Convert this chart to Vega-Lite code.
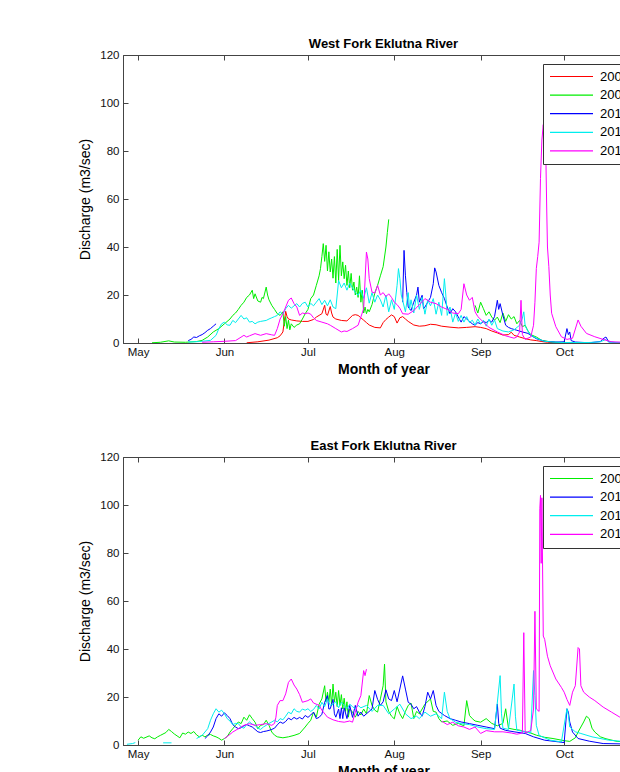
{
  "$schema": "https://vega.github.io/schema/vega-lite/v6.json",
  "background": "white",
  "padding": {"left": 78, "top": 37, "right": 0, "bottom": 0},
  "autosize": {"type": "pad"},
  "spacing": 62,
  "config": {
    "font": "Liberation Sans",
    "view": {"stroke": "#444", "strokeWidth": 1},
    "axis": {"grid": false, "domainColor": "#444", "tickColor": "#444", "labelColor": "#111", "titleColor": "#000", "labelFont": "Liberation Sans", "titleFont": "Liberation Sans", "labelFontSize": 11.5, "tickSize": -5, "labelFlush": false, "labelOverlap": false},
    "title": {"font": "Liberation Sans", "fontSize": 13, "fontWeight": "bold", "color": "#000", "anchor": "middle", "offset": -2},
    "legend": {"title": null, "orient": "top-right", "offset": 9, "symbolType": "stroke", "symbolSize": 1849, "symbolStrokeWidth": 1.2, "clipHeight": 13, "rowPadding": 4.6, "padding": 6, "labelFont": "Liberation Sans", "labelFontSize": 13, "labelColor": "#000", "labelOffset": 6, "strokeColor": "#333", "fillColor": "white", "cornerRadius": 0}
  },
  "resolve": {"scale": {"color": "independent"}, "legend": {"color": "independent"}},
  "datasets": {
    "west": [
      {"y":"2008","s":1,"t":"2012-06-09T00:00","q":0.1},{"y":"2008","s":1,"t":"2012-06-13T00:00","q":0.5},{"y":"2008","s":1,"t":"2012-06-17T00:00","q":1.2},{"y":"2008","s":1,"t":"2012-06-20T00:00","q":2.2},{"y":"2008","s":1,"t":"2012-06-21T00:00","q":3},{"y":"2008","s":1,"t":"2012-06-22T00:00","q":4.6},{"y":"2008","s":1,"t":"2012-06-22T12:00","q":9},{"y":"2008","s":1,"t":"2012-06-23T00:00","q":13.2},{"y":"2008","s":1,"t":"2012-06-23T12:00","q":11},{"y":"2008","s":1,"t":"2012-06-24T00:00","q":10},{"y":"2008","s":1,"t":"2012-06-25T00:00","q":9.6},{"y":"2008","s":1,"t":"2012-06-27T00:00","q":9.2},{"y":"2008","s":1,"t":"2012-06-29T00:00","q":9},{"y":"2008","s":1,"t":"2012-07-01T00:00","q":9},{"y":"2008","s":1,"t":"2012-07-03T00:00","q":9.8},{"y":"2008","s":1,"t":"2012-07-04T00:00","q":10.8},{"y":"2008","s":1,"t":"2012-07-05T00:00","q":11.5},{"y":"2008","s":1,"t":"2012-07-06T00:00","q":12.2},{"y":"2008","s":1,"t":"2012-07-07T00:00","q":15.7},{"y":"2008","s":1,"t":"2012-07-07T12:00","q":12},{"y":"2008","s":1,"t":"2012-07-08T00:00","q":11.5},{"y":"2008","s":1,"t":"2012-07-09T00:00","q":15.2},{"y":"2008","s":1,"t":"2012-07-09T12:00","q":12.5},{"y":"2008","s":1,"t":"2012-07-10T00:00","q":10.8},{"y":"2008","s":1,"t":"2012-07-11T00:00","q":10},{"y":"2008","s":1,"t":"2012-07-13T00:00","q":9.4},{"y":"2008","s":1,"t":"2012-07-15T00:00","q":9.2},{"y":"2008","s":1,"t":"2012-07-17T00:00","q":11.5},{"y":"2008","s":1,"t":"2012-07-18T00:00","q":11.8},{"y":"2008","s":1,"t":"2012-07-19T00:00","q":11.5},{"y":"2008","s":1,"t":"2012-07-20T00:00","q":10.5},{"y":"2008","s":1,"t":"2012-07-21T00:00","q":9.5},{"y":"2008","s":1,"t":"2012-07-22T00:00","q":8.5},{"y":"2008","s":1,"t":"2012-07-23T00:00","q":7.5},{"y":"2008","s":1,"t":"2012-07-25T00:00","q":6.5},{"y":"2008","s":1,"t":"2012-07-27T00:00","q":6.3},{"y":"2008","s":1,"t":"2012-07-28T00:00","q":8.5},{"y":"2008","s":1,"t":"2012-07-29T00:00","q":9.8},{"y":"2008","s":1,"t":"2012-07-30T00:00","q":10.8},{"y":"2008","s":1,"t":"2012-07-31T00:00","q":11.7},{"y":"2008","s":1,"t":"2012-08-01T00:00","q":11},{"y":"2008","s":1,"t":"2012-08-02T00:00","q":8.3},{"y":"2008","s":1,"t":"2012-08-03T00:00","q":10.5},{"y":"2008","s":1,"t":"2012-08-04T00:00","q":11},{"y":"2008","s":1,"t":"2012-08-05T00:00","q":10},{"y":"2008","s":1,"t":"2012-08-06T00:00","q":9},{"y":"2008","s":1,"t":"2012-08-08T00:00","q":7.5},{"y":"2008","s":1,"t":"2012-08-10T00:00","q":7},{"y":"2008","s":1,"t":"2012-08-12T00:00","q":7.2},{"y":"2008","s":1,"t":"2012-08-14T00:00","q":7.8},{"y":"2008","s":1,"t":"2012-08-16T00:00","q":7.6},{"y":"2008","s":1,"t":"2012-08-18T00:00","q":7},{"y":"2008","s":1,"t":"2012-08-21T00:00","q":6.6},{"y":"2008","s":1,"t":"2012-08-24T00:00","q":6.3},{"y":"2008","s":1,"t":"2012-08-27T00:00","q":6.5},{"y":"2008","s":1,"t":"2012-08-30T00:00","q":6.8},{"y":"2008","s":1,"t":"2012-09-01T00:00","q":6.5},{"y":"2008","s":1,"t":"2012-09-03T00:00","q":6},{"y":"2008","s":1,"t":"2012-09-05T00:00","q":5},{"y":"2008","s":1,"t":"2012-09-07T00:00","q":4.2},{"y":"2008","s":1,"t":"2012-09-09T00:00","q":3.3},{"y":"2008","s":1,"t":"2012-09-11T00:00","q":3.5},{"y":"2008","s":1,"t":"2012-09-12T00:00","q":4.5},{"y":"2008","s":1,"t":"2012-09-13T00:00","q":3.2},{"y":"2008","s":1,"t":"2012-09-15T00:00","q":2.5},{"y":"2008","s":1,"t":"2012-09-17T00:00","q":1.8},{"y":"2008","s":1,"t":"2012-09-19T00:00","q":1.3},{"y":"2008","s":1,"t":"2012-09-21T00:00","q":1},{"y":"2008","s":1,"t":"2012-09-23T00:00","q":0.6},{"y":"2008","s":1,"t":"2012-09-25T00:00","q":0.3},{"y":"2008","s":1,"t":"2012-09-28T00:00","q":0.1},

      {"y":"2009","s":1,"t":"2012-05-06T00:00","q":0.1},{"y":"2009","s":1,"t":"2012-05-09T00:00","q":0.3},{"y":"2009","s":1,"t":"2012-05-12T00:00","q":0.9},{"y":"2009","s":1,"t":"2012-05-14T00:00","q":0.4},{"y":"2009","s":1,"t":"2012-05-18T00:00","q":0.3},{"y":"2009","s":1,"t":"2012-05-22T00:00","q":0.6},{"y":"2009","s":1,"t":"2012-05-24T00:00","q":1.1},{"y":"2009","s":1,"t":"2012-05-26T00:00","q":2.5},{"y":"2009","s":1,"t":"2012-05-28T00:00","q":4.6},{"y":"2009","s":1,"t":"2012-05-30T00:00","q":6},{"y":"2009","s":1,"t":"2012-06-01T00:00","q":8},{"y":"2009","s":1,"t":"2012-06-03T00:00","q":10},{"y":"2009","s":1,"t":"2012-06-04T00:00","q":11.5},{"y":"2009","s":1,"t":"2012-06-05T00:00","q":12.5},{"y":"2009","s":1,"t":"2012-06-06T00:00","q":14},{"y":"2009","s":1,"t":"2012-06-07T00:00","q":15.7},{"y":"2009","s":1,"t":"2012-06-08T00:00","q":17},{"y":"2009","s":1,"t":"2012-06-09T00:00","q":19},{"y":"2009","s":1,"t":"2012-06-10T00:00","q":20},{"y":"2009","s":1,"t":"2012-06-11T00:00","q":22},{"y":"2009","s":1,"t":"2012-06-11T12:00","q":18.5},{"y":"2009","s":1,"t":"2012-06-12T00:00","q":20.5},{"y":"2009","s":1,"t":"2012-06-13T00:00","q":17.5},{"y":"2009","s":1,"t":"2012-06-14T00:00","q":17},{"y":"2009","s":1,"t":"2012-06-14T12:00","q":19},{"y":"2009","s":1,"t":"2012-06-15T00:00","q":18.5},{"y":"2009","s":1,"t":"2012-06-16T00:00","q":23.3},{"y":"2009","s":1,"t":"2012-06-16T12:00","q":20},{"y":"2009","s":1,"t":"2012-06-17T00:00","q":18},{"y":"2009","s":1,"t":"2012-06-18T00:00","q":15.7},{"y":"2009","s":1,"t":"2012-06-19T00:00","q":14},{"y":"2009","s":1,"t":"2012-06-20T00:00","q":12.2},{"y":"2009","s":1,"t":"2012-06-21T00:00","q":11.5},{"y":"2009","s":1,"t":"2012-06-22T00:00","q":13},{"y":"2009","s":1,"t":"2012-06-22T12:00","q":7},{"y":"2009","s":1,"t":"2012-06-23T00:00","q":11},{"y":"2009","s":1,"t":"2012-06-23T12:00","q":6},{"y":"2009","s":1,"t":"2012-06-24T00:00","q":9.5},{"y":"2009","s":1,"t":"2012-06-24T12:00","q":5.5},{"y":"2009","s":1,"t":"2012-06-25T00:00","q":8},{"y":"2009","s":1,"t":"2012-06-26T00:00","q":6.5},{"y":"2009","s":1,"t":"2012-06-27T00:00","q":7.5},{"y":"2009","s":1,"t":"2012-06-28T00:00","q":8},{"y":"2009","s":1,"t":"2012-06-29T00:00","q":10},{"y":"2009","s":1,"t":"2012-06-30T00:00","q":12.2},{"y":"2009","s":1,"t":"2012-07-01T00:00","q":14},{"y":"2009","s":1,"t":"2012-07-02T00:00","q":18.5},{"y":"2009","s":1,"t":"2012-07-03T00:00","q":20},{"y":"2009","s":1,"t":"2012-07-04T00:00","q":24},{"y":"2009","s":1,"t":"2012-07-05T00:00","q":28},{"y":"2009","s":1,"t":"2012-07-05T12:00","q":31},{"y":"2009","s":1,"t":"2012-07-06T00:00","q":36},{"y":"2009","s":1,"t":"2012-07-06T12:00","q":41.4},{"y":"2009","s":1,"t":"2012-07-07T00:00","q":34},{"y":"2009","s":1,"t":"2012-07-07T12:00","q":40.7},{"y":"2009","s":1,"t":"2012-07-08T00:00","q":30},{"y":"2009","s":1,"t":"2012-07-08T12:00","q":38},{"y":"2009","s":1,"t":"2012-07-09T00:00","q":29.6},{"y":"2009","s":1,"t":"2012-07-09T12:00","q":35},{"y":"2009","s":1,"t":"2012-07-10T00:00","q":27},{"y":"2009","s":1,"t":"2012-07-10T12:00","q":36},{"y":"2009","s":1,"t":"2012-07-11T00:00","q":25},{"y":"2009","s":1,"t":"2012-07-11T12:00","q":39},{"y":"2009","s":1,"t":"2012-07-12T00:00","q":26},{"y":"2009","s":1,"t":"2012-07-12T12:00","q":40.7},{"y":"2009","s":1,"t":"2012-07-13T00:00","q":28},{"y":"2009","s":1,"t":"2012-07-13T12:00","q":33.8},{"y":"2009","s":1,"t":"2012-07-14T00:00","q":26.8},{"y":"2009","s":1,"t":"2012-07-14T12:00","q":32.4},{"y":"2009","s":1,"t":"2012-07-15T00:00","q":24},{"y":"2009","s":1,"t":"2012-07-15T12:00","q":30},{"y":"2009","s":1,"t":"2012-07-16T00:00","q":23},{"y":"2009","s":1,"t":"2012-07-16T12:00","q":29},{"y":"2009","s":1,"t":"2012-07-17T00:00","q":22},{"y":"2009","s":1,"t":"2012-07-17T12:00","q":25.4},{"y":"2009","s":1,"t":"2012-07-18T00:00","q":20},{"y":"2009","s":1,"t":"2012-07-18T12:00","q":23.3},{"y":"2009","s":1,"t":"2012-07-19T00:00","q":19},{"y":"2009","s":1,"t":"2012-07-19T12:00","q":28},{"y":"2009","s":1,"t":"2012-07-20T00:00","q":17},{"y":"2009","s":1,"t":"2012-07-20T12:00","q":22},{"y":"2009","s":1,"t":"2012-07-21T00:00","q":12.5},{"y":"2009","s":1,"t":"2012-07-21T12:00","q":15},{"y":"2009","s":1,"t":"2012-07-22T00:00","q":12.2},{"y":"2009","s":1,"t":"2012-07-22T12:00","q":14},{"y":"2009","s":1,"t":"2012-07-23T00:00","q":13},{"y":"2009","s":1,"t":"2012-07-24T00:00","q":16},{"y":"2009","s":1,"t":"2012-07-25T00:00","q":20.8},{"y":"2009","s":1,"t":"2012-07-26T00:00","q":24},{"y":"2009","s":1,"t":"2012-07-27T00:00","q":28},{"y":"2009","s":1,"t":"2012-07-28T00:00","q":31.8},{"y":"2009","s":1,"t":"2012-07-29T00:00","q":40},{"y":"2009","s":1,"t":"2012-07-29T12:00","q":46},{"y":"2009","s":1,"t":"2012-07-30T00:00","q":51.5},
      {"y":"2009","s":2,"t":"2012-08-30T00:00","q":15.7},{"y":"2009","s":2,"t":"2012-08-31T00:00","q":12.5},{"y":"2009","s":2,"t":"2012-09-01T00:00","q":17},{"y":"2009","s":2,"t":"2012-09-02T00:00","q":14.3},{"y":"2009","s":2,"t":"2012-09-03T00:00","q":11.5},{"y":"2009","s":2,"t":"2012-09-04T00:00","q":13},{"y":"2009","s":2,"t":"2012-09-05T00:00","q":10.8},{"y":"2009","s":2,"t":"2012-09-06T00:00","q":9.5},{"y":"2009","s":2,"t":"2012-09-07T00:00","q":10.8},{"y":"2009","s":2,"t":"2012-09-08T00:00","q":8.5},{"y":"2009","s":2,"t":"2012-09-09T00:00","q":12.5},{"y":"2009","s":2,"t":"2012-09-10T00:00","q":9},{"y":"2009","s":2,"t":"2012-09-11T00:00","q":11.8},{"y":"2009","s":2,"t":"2012-09-12T00:00","q":10},{"y":"2009","s":2,"t":"2012-09-13T00:00","q":11},{"y":"2009","s":2,"t":"2012-09-14T00:00","q":8},{"y":"2009","s":2,"t":"2012-09-15T00:00","q":9.4},{"y":"2009","s":2,"t":"2012-09-16T00:00","q":6.8},{"y":"2009","s":2,"t":"2012-09-17T00:00","q":7.4},{"y":"2009","s":2,"t":"2012-09-18T00:00","q":5},{"y":"2009","s":2,"t":"2012-09-19T00:00","q":3.5},{"y":"2009","s":2,"t":"2012-09-21T00:00","q":2.5},{"y":"2009","s":2,"t":"2012-09-23T00:00","q":1.1},{"y":"2009","s":2,"t":"2012-09-26T00:00","q":0.5},{"y":"2009","s":2,"t":"2012-09-30T00:00","q":0.1},{"y":"2009","s":2,"t":"2012-10-05T00:00","q":0},

      {"y":"2010","s":1,"t":"2012-05-19T00:00","q":1},{"y":"2010","s":1,"t":"2012-05-20T00:00","q":1.5},{"y":"2010","s":1,"t":"2012-05-21T00:00","q":2.5},{"y":"2010","s":1,"t":"2012-05-22T00:00","q":2.3},{"y":"2010","s":1,"t":"2012-05-23T00:00","q":3},{"y":"2010","s":1,"t":"2012-05-24T00:00","q":3.5},{"y":"2010","s":1,"t":"2012-05-25T00:00","q":4.3},{"y":"2010","s":1,"t":"2012-05-26T00:00","q":5.3},{"y":"2010","s":1,"t":"2012-05-27T00:00","q":6},{"y":"2010","s":1,"t":"2012-05-28T00:00","q":7},{"y":"2010","s":1,"t":"2012-05-29T00:00","q":8},
      {"y":"2010","s":2,"t":"2012-08-04T00:00","q":17},{"y":"2010","s":2,"t":"2012-08-04T12:00","q":38.6},{"y":"2010","s":2,"t":"2012-08-05T00:00","q":28},{"y":"2010","s":2,"t":"2012-08-05T12:00","q":21},{"y":"2010","s":2,"t":"2012-08-06T00:00","q":15},{"y":"2010","s":2,"t":"2012-08-07T00:00","q":13.5},{"y":"2010","s":2,"t":"2012-08-08T00:00","q":17},{"y":"2010","s":2,"t":"2012-08-09T00:00","q":20},{"y":"2010","s":2,"t":"2012-08-09T12:00","q":23.3},{"y":"2010","s":2,"t":"2012-08-10T00:00","q":17},{"y":"2010","s":2,"t":"2012-08-11T00:00","q":19.9},{"y":"2010","s":2,"t":"2012-08-11T12:00","q":14.3},{"y":"2010","s":2,"t":"2012-08-12T00:00","q":15},{"y":"2010","s":2,"t":"2012-08-13T00:00","q":17},{"y":"2010","s":2,"t":"2012-08-14T00:00","q":19},{"y":"2010","s":2,"t":"2012-08-15T00:00","q":24.7},{"y":"2010","s":2,"t":"2012-08-15T12:00","q":31.3},{"y":"2010","s":2,"t":"2012-08-16T00:00","q":29.6},{"y":"2010","s":2,"t":"2012-08-17T00:00","q":24},{"y":"2010","s":2,"t":"2012-08-18T00:00","q":21},{"y":"2010","s":2,"t":"2012-08-19T00:00","q":18.5},{"y":"2010","s":2,"t":"2012-08-20T00:00","q":15},{"y":"2010","s":2,"t":"2012-08-21T00:00","q":12.2},{"y":"2010","s":2,"t":"2012-08-22T00:00","q":14.3},{"y":"2010","s":2,"t":"2012-08-23T00:00","q":13},{"y":"2010","s":2,"t":"2012-08-24T00:00","q":10.8},{"y":"2010","s":2,"t":"2012-08-25T00:00","q":8.7},{"y":"2010","s":2,"t":"2012-08-26T00:00","q":11},{"y":"2010","s":2,"t":"2012-08-27T00:00","q":10},{"y":"2010","s":2,"t":"2012-08-28T00:00","q":9},{"y":"2010","s":2,"t":"2012-08-29T00:00","q":8},{"y":"2010","s":2,"t":"2012-08-30T00:00","q":7.4},{"y":"2010","s":2,"t":"2012-08-31T00:00","q":8.5},{"y":"2010","s":2,"t":"2012-09-01T00:00","q":8},{"y":"2010","s":2,"t":"2012-09-02T00:00","q":9},{"y":"2010","s":2,"t":"2012-09-03T00:00","q":8.5},{"y":"2010","s":2,"t":"2012-09-04T00:00","q":9.5},{"y":"2010","s":2,"t":"2012-09-05T00:00","q":8.7},{"y":"2010","s":2,"t":"2012-09-06T00:00","q":11},{"y":"2010","s":2,"t":"2012-09-07T00:00","q":17.8},{"y":"2010","s":2,"t":"2012-09-07T12:00","q":14},{"y":"2010","s":2,"t":"2012-09-08T00:00","q":16.4},{"y":"2010","s":2,"t":"2012-09-09T00:00","q":11.5},{"y":"2010","s":2,"t":"2012-09-10T00:00","q":7.4},{"y":"2010","s":2,"t":"2012-09-11T00:00","q":6.5},{"y":"2010","s":2,"t":"2012-09-12T00:00","q":6},{"y":"2010","s":2,"t":"2012-09-14T00:00","q":5.3},{"y":"2010","s":2,"t":"2012-09-16T00:00","q":4.6},{"y":"2010","s":2,"t":"2012-09-18T00:00","q":4},{"y":"2010","s":2,"t":"2012-09-19T00:00","q":3.2},{"y":"2010","s":2,"t":"2012-09-21T00:00","q":1.8},{"y":"2010","s":2,"t":"2012-09-24T00:00","q":0.7},{"y":"2010","s":2,"t":"2012-09-28T00:00","q":0.4},{"y":"2010","s":2,"t":"2012-10-01T00:00","q":0.5},{"y":"2010","s":2,"t":"2012-10-02T00:00","q":6},{"y":"2010","s":2,"t":"2012-10-02T12:00","q":3.5},{"y":"2010","s":2,"t":"2012-10-03T00:00","q":4.6},{"y":"2010","s":2,"t":"2012-10-03T12:00","q":1},{"y":"2010","s":2,"t":"2012-10-05T00:00","q":0.4},{"y":"2010","s":2,"t":"2012-10-10T00:00","q":0.1},{"y":"2010","s":2,"t":"2012-10-14T00:00","q":0.6},{"y":"2010","s":2,"t":"2012-10-15T00:00","q":1.8},{"y":"2010","s":2,"t":"2012-10-16T00:00","q":2.5},{"y":"2010","s":2,"t":"2012-10-17T00:00","q":0.5},{"y":"2010","s":2,"t":"2012-10-20T00:00","q":0.1},{"y":"2010","s":2,"t":"2012-10-29T00:00","q":0.05},

      {"y":"2011","s":1,"t":"2012-05-19T00:00","q":0.4},{"y":"2011","s":1,"t":"2012-05-23T00:00","q":0.6},{"y":"2011","s":1,"t":"2012-05-27T00:00","q":1.1},{"y":"2011","s":1,"t":"2012-05-29T00:00","q":3.2},{"y":"2011","s":1,"t":"2012-05-30T00:00","q":6},{"y":"2011","s":1,"t":"2012-05-31T00:00","q":8},{"y":"2011","s":1,"t":"2012-06-01T00:00","q":8.7},{"y":"2011","s":1,"t":"2012-06-02T00:00","q":7.5},{"y":"2011","s":1,"t":"2012-06-03T00:00","q":7.4},{"y":"2011","s":1,"t":"2012-06-04T00:00","q":9.4},{"y":"2011","s":1,"t":"2012-06-05T00:00","q":8.5},{"y":"2011","s":1,"t":"2012-06-06T00:00","q":10},{"y":"2011","s":1,"t":"2012-06-07T00:00","q":11.5},{"y":"2011","s":1,"t":"2012-06-08T00:00","q":10},{"y":"2011","s":1,"t":"2012-06-09T00:00","q":10.5},{"y":"2011","s":1,"t":"2012-06-10T00:00","q":8.7},{"y":"2011","s":1,"t":"2012-06-11T00:00","q":9},{"y":"2011","s":1,"t":"2012-06-12T00:00","q":8},{"y":"2011","s":1,"t":"2012-06-13T00:00","q":8.7},{"y":"2011","s":1,"t":"2012-06-14T00:00","q":9},{"y":"2011","s":1,"t":"2012-06-16T00:00","q":9.4},{"y":"2011","s":1,"t":"2012-06-17T00:00","q":10},{"y":"2011","s":1,"t":"2012-06-18T00:00","q":10.5},{"y":"2011","s":1,"t":"2012-06-19T00:00","q":11},{"y":"2011","s":1,"t":"2012-06-20T00:00","q":11.5},{"y":"2011","s":1,"t":"2012-06-21T00:00","q":13},{"y":"2011","s":1,"t":"2012-06-22T00:00","q":12},{"y":"2011","s":1,"t":"2012-06-23T00:00","q":14.3},{"y":"2011","s":1,"t":"2012-06-24T00:00","q":15.7},{"y":"2011","s":1,"t":"2012-06-25T00:00","q":14.5},{"y":"2011","s":1,"t":"2012-06-26T00:00","q":15.5},{"y":"2011","s":1,"t":"2012-06-27T00:00","q":16.4},{"y":"2011","s":1,"t":"2012-06-28T00:00","q":15},{"y":"2011","s":1,"t":"2012-06-29T00:00","q":16.5},{"y":"2011","s":1,"t":"2012-06-30T00:00","q":17},{"y":"2011","s":1,"t":"2012-07-01T00:00","q":15},{"y":"2011","s":1,"t":"2012-07-02T00:00","q":16.5},{"y":"2011","s":1,"t":"2012-07-03T00:00","q":15.5},{"y":"2011","s":1,"t":"2012-07-04T00:00","q":17},{"y":"2011","s":1,"t":"2012-07-05T00:00","q":18.5},{"y":"2011","s":1,"t":"2012-07-06T00:00","q":16},{"y":"2011","s":1,"t":"2012-07-07T00:00","q":17.8},{"y":"2011","s":1,"t":"2012-07-08T00:00","q":15.5},{"y":"2011","s":1,"t":"2012-07-09T00:00","q":18},{"y":"2011","s":1,"t":"2012-07-10T00:00","q":15},{"y":"2011","s":1,"t":"2012-07-11T00:00","q":14.3},{"y":"2011","s":1,"t":"2012-07-11T12:00","q":20},{"y":"2011","s":1,"t":"2012-07-12T00:00","q":26},{"y":"2011","s":1,"t":"2012-07-13T00:00","q":23},{"y":"2011","s":1,"t":"2012-07-14T00:00","q":25},{"y":"2011","s":1,"t":"2012-07-15T00:00","q":22},{"y":"2011","s":1,"t":"2012-07-16T00:00","q":25},{"y":"2011","s":1,"t":"2012-07-17T00:00","q":23},{"y":"2011","s":1,"t":"2012-07-18T00:00","q":21},{"y":"2011","s":1,"t":"2012-07-19T00:00","q":19.9},{"y":"2011","s":1,"t":"2012-07-20T00:00","q":22},{"y":"2011","s":1,"t":"2012-07-21T00:00","q":18.6},{"y":"2011","s":1,"t":"2012-07-22T00:00","q":23},{"y":"2011","s":1,"t":"2012-07-23T00:00","q":16.6},{"y":"2011","s":1,"t":"2012-07-24T00:00","q":21},{"y":"2011","s":1,"t":"2012-07-25T00:00","q":17},{"y":"2011","s":1,"t":"2012-07-26T00:00","q":20},{"y":"2011","s":1,"t":"2012-07-27T00:00","q":18},{"y":"2011","s":1,"t":"2012-07-28T00:00","q":15},{"y":"2011","s":1,"t":"2012-07-29T00:00","q":20},{"y":"2011","s":1,"t":"2012-07-30T00:00","q":13},{"y":"2011","s":1,"t":"2012-07-31T00:00","q":18},{"y":"2011","s":1,"t":"2012-08-01T00:00","q":14},{"y":"2011","s":1,"t":"2012-08-02T00:00","q":24},{"y":"2011","s":1,"t":"2012-08-02T12:00","q":31},{"y":"2011","s":1,"t":"2012-08-03T00:00","q":26.8},{"y":"2011","s":1,"t":"2012-08-03T12:00","q":20},{"y":"2011","s":1,"t":"2012-08-04T00:00","q":17.8},{"y":"2011","s":1,"t":"2012-08-05T00:00","q":13},{"y":"2011","s":1,"t":"2012-08-06T00:00","q":21},{"y":"2011","s":1,"t":"2012-08-06T12:00","q":14},{"y":"2011","s":1,"t":"2012-08-07T00:00","q":18},{"y":"2011","s":1,"t":"2012-08-08T00:00","q":12.5},{"y":"2011","s":1,"t":"2012-08-09T00:00","q":20},{"y":"2011","s":1,"t":"2012-08-10T00:00","q":14},{"y":"2011","s":1,"t":"2012-08-11T00:00","q":19},{"y":"2011","s":1,"t":"2012-08-12T00:00","q":12},{"y":"2011","s":1,"t":"2012-08-13T00:00","q":18},{"y":"2011","s":1,"t":"2012-08-14T00:00","q":15.5},{"y":"2011","s":1,"t":"2012-08-15T00:00","q":18.5},{"y":"2011","s":1,"t":"2012-08-16T00:00","q":12},{"y":"2011","s":1,"t":"2012-08-17T00:00","q":17},{"y":"2011","s":1,"t":"2012-08-18T00:00","q":11.5},{"y":"2011","s":1,"t":"2012-08-19T00:00","q":26.8},{"y":"2011","s":1,"t":"2012-08-19T12:00","q":20},{"y":"2011","s":1,"t":"2012-08-20T00:00","q":11.5},{"y":"2011","s":1,"t":"2012-08-21T00:00","q":15},{"y":"2011","s":1,"t":"2012-08-22T00:00","q":8.7},{"y":"2011","s":1,"t":"2012-08-23T00:00","q":12.5},{"y":"2011","s":1,"t":"2012-08-24T00:00","q":9},{"y":"2011","s":1,"t":"2012-08-25T00:00","q":11.5},{"y":"2011","s":1,"t":"2012-08-26T00:00","q":8.7},{"y":"2011","s":1,"t":"2012-08-27T00:00","q":11},{"y":"2011","s":1,"t":"2012-08-28T00:00","q":8.5},{"y":"2011","s":1,"t":"2012-08-29T00:00","q":9.5},{"y":"2011","s":1,"t":"2012-08-30T00:00","q":7.5},{"y":"2011","s":1,"t":"2012-08-31T00:00","q":10},{"y":"2011","s":1,"t":"2012-09-01T00:00","q":8},{"y":"2011","s":1,"t":"2012-09-02T00:00","q":9.5},{"y":"2011","s":1,"t":"2012-09-03T00:00","q":7},{"y":"2011","s":1,"t":"2012-09-04T00:00","q":10},{"y":"2011","s":1,"t":"2012-09-05T00:00","q":7.4},{"y":"2011","s":1,"t":"2012-09-06T00:00","q":9.6},{"y":"2011","s":1,"t":"2012-09-07T00:00","q":6},{"y":"2011","s":1,"t":"2012-09-09T00:00","q":5},{"y":"2011","s":1,"t":"2012-09-11T00:00","q":4.6},{"y":"2011","s":1,"t":"2012-09-13T00:00","q":5.5},{"y":"2011","s":1,"t":"2012-09-15T00:00","q":7.4},{"y":"2011","s":1,"t":"2012-09-16T00:00","q":10.4},{"y":"2011","s":1,"t":"2012-09-16T12:00","q":13},{"y":"2011","s":1,"t":"2012-09-17T00:00","q":7},{"y":"2011","s":1,"t":"2012-09-18T00:00","q":5},{"y":"2011","s":1,"t":"2012-09-19T00:00","q":3.2},{"y":"2011","s":1,"t":"2012-09-20T00:00","q":2.6},{"y":"2011","s":1,"t":"2012-09-22T00:00","q":1.5},{"y":"2011","s":1,"t":"2012-09-24T00:00","q":0.7},{"y":"2011","s":1,"t":"2012-09-27T00:00","q":0.4},{"y":"2011","s":1,"t":"2012-10-01T00:00","q":0.2},{"y":"2011","s":1,"t":"2012-10-10T00:00","q":0.2},{"y":"2011","s":1,"t":"2012-10-14T00:00","q":0.5},{"y":"2011","s":1,"t":"2012-10-16T00:00","q":1.5},{"y":"2011","s":1,"t":"2012-10-17T00:00","q":0.3},{"y":"2011","s":1,"t":"2012-10-29T00:00","q":0.1},

      {"y":"2012","s":1,"t":"2012-05-24T00:00","q":0.3},{"y":"2012","s":1,"t":"2012-05-28T00:00","q":0.5},{"y":"2012","s":1,"t":"2012-06-01T00:00","q":0.7},{"y":"2012","s":1,"t":"2012-06-05T00:00","q":1},{"y":"2012","s":1,"t":"2012-06-08T00:00","q":3.2},{"y":"2012","s":1,"t":"2012-06-09T00:00","q":2.5},{"y":"2012","s":1,"t":"2012-06-10T00:00","q":3},{"y":"2012","s":1,"t":"2012-06-12T00:00","q":3.9},{"y":"2012","s":1,"t":"2012-06-14T00:00","q":3.2},{"y":"2012","s":1,"t":"2012-06-16T00:00","q":3.9},{"y":"2012","s":1,"t":"2012-06-18T00:00","q":3.4},{"y":"2012","s":1,"t":"2012-06-19T00:00","q":3.2},{"y":"2012","s":1,"t":"2012-06-20T00:00","q":6},{"y":"2012","s":1,"t":"2012-06-21T00:00","q":10},{"y":"2012","s":1,"t":"2012-06-22T00:00","q":12.2},{"y":"2012","s":1,"t":"2012-06-23T00:00","q":15},{"y":"2012","s":1,"t":"2012-06-24T00:00","q":17.8},{"y":"2012","s":1,"t":"2012-06-25T00:00","q":18.75},{"y":"2012","s":1,"t":"2012-06-26T00:00","q":16.4},{"y":"2012","s":1,"t":"2012-06-27T00:00","q":15},{"y":"2012","s":1,"t":"2012-06-28T00:00","q":11.5},{"y":"2012","s":1,"t":"2012-06-29T00:00","q":12.5},{"y":"2012","s":1,"t":"2012-06-30T00:00","q":12.2},{"y":"2012","s":1,"t":"2012-07-01T00:00","q":12.5},{"y":"2012","s":1,"t":"2012-07-02T00:00","q":12},{"y":"2012","s":1,"t":"2012-07-03T00:00","q":10.5},{"y":"2012","s":1,"t":"2012-07-04T00:00","q":9.4},{"y":"2012","s":1,"t":"2012-07-06T00:00","q":8.7},{"y":"2012","s":1,"t":"2012-07-08T00:00","q":8},{"y":"2012","s":1,"t":"2012-07-09T00:00","q":7.4},{"y":"2012","s":1,"t":"2012-07-11T00:00","q":6},{"y":"2012","s":1,"t":"2012-07-13T00:00","q":4.6},{"y":"2012","s":1,"t":"2012-07-14T00:00","q":5},{"y":"2012","s":1,"t":"2012-07-15T00:00","q":4.8},{"y":"2012","s":1,"t":"2012-07-17T00:00","q":6},{"y":"2012","s":1,"t":"2012-07-19T00:00","q":7.4},{"y":"2012","s":1,"t":"2012-07-21T00:00","q":14.3},{"y":"2012","s":1,"t":"2012-07-22T00:00","q":37.9},{"y":"2012","s":1,"t":"2012-07-22T12:00","q":35},{"y":"2012","s":1,"t":"2012-07-23T00:00","q":26.8},{"y":"2012","s":1,"t":"2012-07-24T00:00","q":21.2},{"y":"2012","s":1,"t":"2012-07-25T00:00","q":20.8},{"y":"2012","s":1,"t":"2012-07-26T00:00","q":24},{"y":"2012","s":1,"t":"2012-07-27T00:00","q":20},{"y":"2012","s":1,"t":"2012-07-28T00:00","q":21},{"y":"2012","s":1,"t":"2012-07-29T00:00","q":19.3},{"y":"2012","s":1,"t":"2012-07-30T00:00","q":20.5},{"y":"2012","s":1,"t":"2012-07-31T00:00","q":19},{"y":"2012","s":1,"t":"2012-08-01T00:00","q":17},{"y":"2012","s":1,"t":"2012-08-02T00:00","q":16},{"y":"2012","s":1,"t":"2012-08-03T00:00","q":14.5},{"y":"2012","s":1,"t":"2012-08-04T00:00","q":12.2},{"y":"2012","s":1,"t":"2012-08-06T00:00","q":12},{"y":"2012","s":1,"t":"2012-08-08T00:00","q":13.5},{"y":"2012","s":1,"t":"2012-08-10T00:00","q":16},{"y":"2012","s":1,"t":"2012-08-12T00:00","q":18.5},{"y":"2012","s":1,"t":"2012-08-14T00:00","q":17},{"y":"2012","s":1,"t":"2012-08-16T00:00","q":16.4},{"y":"2012","s":1,"t":"2012-08-18T00:00","q":15},{"y":"2012","s":1,"t":"2012-08-20T00:00","q":14},{"y":"2012","s":1,"t":"2012-08-22T00:00","q":12.5},{"y":"2012","s":1,"t":"2012-08-24T00:00","q":12.2},{"y":"2012","s":1,"t":"2012-08-25T00:00","q":14},{"y":"2012","s":1,"t":"2012-08-26T00:00","q":24.7},{"y":"2012","s":1,"t":"2012-08-27T00:00","q":20},{"y":"2012","s":1,"t":"2012-08-28T00:00","q":17.8},{"y":"2012","s":1,"t":"2012-08-29T00:00","q":19},{"y":"2012","s":1,"t":"2012-08-30T00:00","q":13},{"y":"2012","s":1,"t":"2012-08-31T00:00","q":11},{"y":"2012","s":1,"t":"2012-09-02T00:00","q":8.7},{"y":"2012","s":1,"t":"2012-09-04T00:00","q":6.5},{"y":"2012","s":1,"t":"2012-09-07T00:00","q":4.6},{"y":"2012","s":1,"t":"2012-09-10T00:00","q":3},{"y":"2012","s":1,"t":"2012-09-13T00:00","q":2},{"y":"2012","s":1,"t":"2012-09-14T00:00","q":2.5},{"y":"2012","s":1,"t":"2012-09-15T00:00","q":4.6},{"y":"2012","s":1,"t":"2012-09-15T12:00","q":17.8},{"y":"2012","s":1,"t":"2012-09-16T00:00","q":3.5},{"y":"2012","s":1,"t":"2012-09-17T00:00","q":1.5},{"y":"2012","s":1,"t":"2012-09-19T00:00","q":2.5},{"y":"2012","s":1,"t":"2012-09-20T00:00","q":7.4},{"y":"2012","s":1,"t":"2012-09-20T12:00","q":17},{"y":"2012","s":1,"t":"2012-09-21T00:00","q":31},{"y":"2012","s":1,"t":"2012-09-21T12:00","q":36},{"y":"2012","s":1,"t":"2012-09-22T00:00","q":42},{"y":"2012","s":1,"t":"2012-09-22T12:00","q":68.6},{"y":"2012","s":1,"t":"2012-09-23T00:00","q":84.6},{"y":"2012","s":1,"t":"2012-09-23T12:00","q":91},{"y":"2012","s":1,"t":"2012-09-24T00:00","q":80},{"y":"2012","s":1,"t":"2012-09-24T06:00","q":90},{"y":"2012","s":1,"t":"2012-09-24T18:00","q":55},{"y":"2012","s":1,"t":"2012-09-25T00:00","q":40},{"y":"2012","s":1,"t":"2012-09-25T12:00","q":31.8},{"y":"2012","s":1,"t":"2012-09-26T00:00","q":20},{"y":"2012","s":1,"t":"2012-09-26T12:00","q":12.4},{"y":"2012","s":1,"t":"2012-09-28T00:00","q":6.8},{"y":"2012","s":1,"t":"2012-09-30T00:00","q":2.6},{"y":"2012","s":1,"t":"2012-10-02T00:00","q":1.5},{"y":"2012","s":1,"t":"2012-10-04T00:00","q":2},{"y":"2012","s":1,"t":"2012-10-06T00:00","q":9.6},{"y":"2012","s":1,"t":"2012-10-07T00:00","q":7},{"y":"2012","s":1,"t":"2012-10-09T00:00","q":4},{"y":"2012","s":1,"t":"2012-10-12T00:00","q":2.6},{"y":"2012","s":1,"t":"2012-10-15T00:00","q":1.5},{"y":"2012","s":1,"t":"2012-10-18T00:00","q":0.5},{"y":"2012","s":1,"t":"2012-10-25T00:00","q":0.2}
    ],
    "east": [
      {"y":"2009","s":1,"t":"2012-05-01T00:00","q":2},{"y":"2009","s":1,"t":"2012-05-02T00:00","q":3.4},{"y":"2009","s":1,"t":"2012-05-03T00:00","q":2.8},{"y":"2009","s":1,"t":"2012-05-05T00:00","q":3.8},{"y":"2009","s":1,"t":"2012-05-06T00:00","q":3},{"y":"2009","s":1,"t":"2012-05-07T00:00","q":2.6},{"y":"2009","s":1,"t":"2012-05-08T00:00","q":3.4},{"y":"2009","s":1,"t":"2012-05-09T00:00","q":4},{"y":"2009","s":1,"t":"2012-05-11T00:00","q":5.2},{"y":"2009","s":1,"t":"2012-05-12T00:00","q":6.5},{"y":"2009","s":1,"t":"2012-05-13T00:00","q":5.6},{"y":"2009","s":1,"t":"2012-05-14T00:00","q":4.6},{"y":"2009","s":1,"t":"2012-05-15T00:00","q":3.8},{"y":"2009","s":1,"t":"2012-05-16T00:00","q":3},{"y":"2009","s":1,"t":"2012-05-17T00:00","q":5},{"y":"2009","s":1,"t":"2012-05-18T00:00","q":4.5},{"y":"2009","s":1,"t":"2012-05-19T00:00","q":5.4},{"y":"2009","s":1,"t":"2012-05-20T00:00","q":4.8},{"y":"2009","s":1,"t":"2012-05-21T00:00","q":5.6},{"y":"2009","s":1,"t":"2012-05-22T00:00","q":4.2},{"y":"2009","s":1,"t":"2012-05-23T00:00","q":3.4},{"y":"2009","s":1,"t":"2012-05-24T00:00","q":4.1},{"y":"2009","s":1,"t":"2012-05-25T00:00","q":3.4},{"y":"2009","s":1,"t":"2012-05-26T00:00","q":4.1},{"y":"2009","s":1,"t":"2012-05-27T00:00","q":4.4},{"y":"2009","s":1,"t":"2012-05-28T00:00","q":3.8},{"y":"2009","s":1,"t":"2012-05-29T00:00","q":3.4},{"y":"2009","s":1,"t":"2012-05-30T00:00","q":2.8},{"y":"2009","s":1,"t":"2012-05-31T00:00","q":2},{"y":"2009","s":1,"t":"2012-06-01T00:00","q":2.7},{"y":"2009","s":1,"t":"2012-06-02T00:00","q":3.5},{"y":"2009","s":1,"t":"2012-06-03T00:00","q":5.4},{"y":"2009","s":1,"t":"2012-06-04T00:00","q":6.8},{"y":"2009","s":1,"t":"2012-06-05T00:00","q":8.2},{"y":"2009","s":1,"t":"2012-06-06T00:00","q":9.6},{"y":"2009","s":1,"t":"2012-06-07T00:00","q":8.9},{"y":"2009","s":1,"t":"2012-06-08T00:00","q":11.6},{"y":"2009","s":1,"t":"2012-06-09T00:00","q":10.3},{"y":"2009","s":1,"t":"2012-06-10T00:00","q":12.6},{"y":"2009","s":1,"t":"2012-06-11T00:00","q":11},{"y":"2009","s":1,"t":"2012-06-12T00:00","q":9.5},{"y":"2009","s":1,"t":"2012-06-13T00:00","q":6.8},{"y":"2009","s":1,"t":"2012-06-14T00:00","q":8.2},{"y":"2009","s":1,"t":"2012-06-15T00:00","q":8.5},{"y":"2009","s":1,"t":"2012-06-16T00:00","q":10.3},{"y":"2009","s":1,"t":"2012-06-17T00:00","q":8.2},{"y":"2009","s":1,"t":"2012-06-18T00:00","q":5.4},{"y":"2009","s":1,"t":"2012-06-19T00:00","q":4.1},{"y":"2009","s":1,"t":"2012-06-20T00:00","q":3.4},{"y":"2009","s":1,"t":"2012-06-22T00:00","q":3},{"y":"2009","s":1,"t":"2012-06-24T00:00","q":3.4},{"y":"2009","s":1,"t":"2012-06-26T00:00","q":4},{"y":"2009","s":1,"t":"2012-06-28T00:00","q":4.8},{"y":"2009","s":1,"t":"2012-06-30T00:00","q":7.5},{"y":"2009","s":1,"t":"2012-07-01T00:00","q":9},{"y":"2009","s":1,"t":"2012-07-02T00:00","q":10.3},{"y":"2009","s":1,"t":"2012-07-03T00:00","q":13.7},{"y":"2009","s":1,"t":"2012-07-04T00:00","q":11.6},{"y":"2009","s":1,"t":"2012-07-05T00:00","q":17},{"y":"2009","s":1,"t":"2012-07-06T00:00","q":19.2},{"y":"2009","s":1,"t":"2012-07-07T00:00","q":24.7},{"y":"2009","s":1,"t":"2012-07-07T12:00","q":18},{"y":"2009","s":1,"t":"2012-07-08T00:00","q":22},{"y":"2009","s":1,"t":"2012-07-08T12:00","q":17.8},{"y":"2009","s":1,"t":"2012-07-09T00:00","q":23.3},{"y":"2009","s":1,"t":"2012-07-09T12:00","q":16.5},{"y":"2009","s":1,"t":"2012-07-10T00:00","q":25.4},{"y":"2009","s":1,"t":"2012-07-10T12:00","q":18},{"y":"2009","s":1,"t":"2012-07-11T00:00","q":22},{"y":"2009","s":1,"t":"2012-07-11T12:00","q":16},{"y":"2009","s":1,"t":"2012-07-12T00:00","q":22.7},{"y":"2009","s":1,"t":"2012-07-12T12:00","q":16.5},{"y":"2009","s":1,"t":"2012-07-13T00:00","q":21},{"y":"2009","s":1,"t":"2012-07-13T12:00","q":15},{"y":"2009","s":1,"t":"2012-07-14T00:00","q":19.5},{"y":"2009","s":1,"t":"2012-07-14T12:00","q":14},{"y":"2009","s":1,"t":"2012-07-15T00:00","q":18},{"y":"2009","s":1,"t":"2012-07-15T12:00","q":11.6},{"y":"2009","s":1,"t":"2012-07-16T00:00","q":15},{"y":"2009","s":1,"t":"2012-07-17T00:00","q":13.7},{"y":"2009","s":1,"t":"2012-07-18T00:00","q":11.6},{"y":"2009","s":1,"t":"2012-07-19T00:00","q":14},{"y":"2009","s":1,"t":"2012-07-20T00:00","q":12.5},{"y":"2009","s":1,"t":"2012-07-21T00:00","q":15},{"y":"2009","s":1,"t":"2012-07-22T00:00","q":13},{"y":"2009","s":1,"t":"2012-07-23T00:00","q":20.6},{"y":"2009","s":1,"t":"2012-07-24T00:00","q":16.5},{"y":"2009","s":1,"t":"2012-07-25T00:00","q":14.5},{"y":"2009","s":1,"t":"2012-07-26T00:00","q":13.7},{"y":"2009","s":1,"t":"2012-07-27T00:00","q":19.2},{"y":"2009","s":1,"t":"2012-07-28T00:00","q":24.7},{"y":"2009","s":1,"t":"2012-07-28T12:00","q":33.7},{"y":"2009","s":1,"t":"2012-07-29T00:00","q":18},{"y":"2009","s":1,"t":"2012-07-30T00:00","q":14},{"y":"2009","s":1,"t":"2012-07-31T00:00","q":12},{"y":"2009","s":1,"t":"2012-08-01T00:00","q":10.9},{"y":"2009","s":1,"t":"2012-08-02T00:00","q":16},{"y":"2009","s":1,"t":"2012-08-03T00:00","q":13},{"y":"2009","s":1,"t":"2012-08-04T00:00","q":11},{"y":"2009","s":1,"t":"2012-08-05T00:00","q":14},{"y":"2009","s":1,"t":"2012-08-06T00:00","q":16.5},{"y":"2009","s":1,"t":"2012-08-07T00:00","q":17.5},{"y":"2009","s":1,"t":"2012-08-08T00:00","q":11},{"y":"2009","s":1,"t":"2012-08-09T00:00","q":14},{"y":"2009","s":1,"t":"2012-08-10T00:00","q":13},{"y":"2009","s":1,"t":"2012-08-12T00:00","q":17},{"y":"2009","s":1,"t":"2012-08-14T00:00","q":19.2},{"y":"2009","s":1,"t":"2012-08-15T00:00","q":14},{"y":"2009","s":1,"t":"2012-08-16T00:00","q":13.7},{"y":"2009","s":1,"t":"2012-08-17T00:00","q":11},{"y":"2009","s":1,"t":"2012-08-18T00:00","q":9.6},{"y":"2009","s":1,"t":"2012-08-20T00:00","q":10},{"y":"2009","s":1,"t":"2012-08-22T00:00","q":8.2},{"y":"2009","s":1,"t":"2012-08-24T00:00","q":9},{"y":"2009","s":1,"t":"2012-08-26T00:00","q":8},{"y":"2009","s":1,"t":"2012-08-27T00:00","q":18.5},{"y":"2009","s":1,"t":"2012-08-28T00:00","q":12.3},{"y":"2009","s":1,"t":"2012-08-29T00:00","q":11},{"y":"2009","s":1,"t":"2012-08-30T00:00","q":10},{"y":"2009","s":1,"t":"2012-09-01T00:00","q":9.5},{"y":"2009","s":1,"t":"2012-09-03T00:00","q":11},{"y":"2009","s":1,"t":"2012-09-05T00:00","q":9},{"y":"2009","s":1,"t":"2012-09-07T00:00","q":8},{"y":"2009","s":1,"t":"2012-09-09T00:00","q":9},{"y":"2009","s":1,"t":"2012-09-10T00:00","q":15.1},{"y":"2009","s":1,"t":"2012-09-11T00:00","q":7},{"y":"2009","s":1,"t":"2012-09-13T00:00","q":6.5},{"y":"2009","s":1,"t":"2012-09-15T00:00","q":6.2},{"y":"2009","s":1,"t":"2012-09-17T00:00","q":5.5},{"y":"2009","s":1,"t":"2012-09-19T00:00","q":5},{"y":"2009","s":1,"t":"2012-09-21T00:00","q":4.1},{"y":"2009","s":1,"t":"2012-09-24T00:00","q":3.2},{"y":"2009","s":1,"t":"2012-09-27T00:00","q":2.7},{"y":"2009","s":1,"t":"2012-10-01T00:00","q":1.8},{"y":"2009","s":1,"t":"2012-10-03T00:00","q":1.5},{"y":"2009","s":1,"t":"2012-10-05T00:00","q":3},{"y":"2009","s":1,"t":"2012-10-06T00:00","q":5.4},{"y":"2009","s":1,"t":"2012-10-08T00:00","q":9.6},{"y":"2009","s":1,"t":"2012-10-09T00:00","q":12},{"y":"2009","s":1,"t":"2012-10-10T00:00","q":11},{"y":"2009","s":1,"t":"2012-10-11T00:00","q":7},{"y":"2009","s":1,"t":"2012-10-12T00:00","q":5.4},{"y":"2009","s":1,"t":"2012-10-14T00:00","q":3.4},{"y":"2009","s":1,"t":"2012-10-16T00:00","q":2.6},{"y":"2009","s":1,"t":"2012-10-20T00:00","q":1.5},{"y":"2009","s":1,"t":"2012-10-29T00:00","q":1},

      {"y":"2010","s":1,"t":"2012-05-25T00:00","q":2.7},{"y":"2010","s":1,"t":"2012-05-26T00:00","q":3.8},{"y":"2010","s":1,"t":"2012-05-27T00:00","q":5.4},{"y":"2010","s":1,"t":"2012-05-28T00:00","q":7.5},{"y":"2010","s":1,"t":"2012-05-29T00:00","q":11},{"y":"2010","s":1,"t":"2012-05-30T00:00","q":13},{"y":"2010","s":1,"t":"2012-05-31T00:00","q":12},{"y":"2010","s":1,"t":"2012-06-01T00:00","q":13.4},{"y":"2010","s":1,"t":"2012-06-02T00:00","q":12.3},{"y":"2010","s":1,"t":"2012-06-03T00:00","q":11},{"y":"2010","s":1,"t":"2012-06-04T00:00","q":8.5},{"y":"2010","s":1,"t":"2012-06-05T00:00","q":7.5},{"y":"2010","s":1,"t":"2012-06-06T00:00","q":6.8},{"y":"2010","s":1,"t":"2012-06-07T00:00","q":7.2},{"y":"2010","s":1,"t":"2012-06-08T00:00","q":8},{"y":"2010","s":1,"t":"2012-06-09T00:00","q":8.5},{"y":"2010","s":1,"t":"2012-06-10T00:00","q":8},{"y":"2010","s":1,"t":"2012-06-11T00:00","q":7.5},{"y":"2010","s":1,"t":"2012-06-12T00:00","q":6.5},{"y":"2010","s":1,"t":"2012-06-13T00:00","q":5.5},{"y":"2010","s":1,"t":"2012-06-14T00:00","q":5.2},{"y":"2010","s":1,"t":"2012-06-15T00:00","q":5.6},{"y":"2010","s":1,"t":"2012-06-16T00:00","q":5.8},{"y":"2010","s":1,"t":"2012-06-17T00:00","q":6.1},{"y":"2010","s":1,"t":"2012-06-18T00:00","q":6.5},{"y":"2010","s":1,"t":"2012-06-19T00:00","q":7},{"y":"2010","s":1,"t":"2012-06-20T00:00","q":8.4},{"y":"2010","s":1,"t":"2012-06-21T00:00","q":9.6},{"y":"2010","s":1,"t":"2012-06-22T00:00","q":9},{"y":"2010","s":1,"t":"2012-06-23T00:00","q":9.8},{"y":"2010","s":1,"t":"2012-06-24T00:00","q":11.2},{"y":"2010","s":1,"t":"2012-06-25T00:00","q":10.5},{"y":"2010","s":1,"t":"2012-06-26T00:00","q":11.5},{"y":"2010","s":1,"t":"2012-06-27T00:00","q":10.8},{"y":"2010","s":1,"t":"2012-06-28T00:00","q":11.5},{"y":"2010","s":1,"t":"2012-06-29T00:00","q":10.8},{"y":"2010","s":1,"t":"2012-06-30T00:00","q":12.3},{"y":"2010","s":1,"t":"2012-07-01T00:00","q":11.5},{"y":"2010","s":1,"t":"2012-07-02T00:00","q":12.5},{"y":"2010","s":1,"t":"2012-07-03T00:00","q":13.7},{"y":"2010","s":1,"t":"2012-07-04T00:00","q":11},{"y":"2010","s":1,"t":"2012-07-05T00:00","q":11.5},{"y":"2010","s":1,"t":"2012-07-06T00:00","q":12.8},{"y":"2010","s":1,"t":"2012-07-07T00:00","q":17.8},{"y":"2010","s":1,"t":"2012-07-08T00:00","q":20.6},{"y":"2010","s":1,"t":"2012-07-08T12:00","q":15},{"y":"2010","s":1,"t":"2012-07-09T00:00","q":15.1},{"y":"2010","s":1,"t":"2012-07-10T00:00","q":19},{"y":"2010","s":1,"t":"2012-07-10T12:00","q":13},{"y":"2010","s":1,"t":"2012-07-11T00:00","q":11.6},{"y":"2010","s":1,"t":"2012-07-12T00:00","q":15},{"y":"2010","s":1,"t":"2012-07-12T12:00","q":11},{"y":"2010","s":1,"t":"2012-07-13T00:00","q":15.5},{"y":"2010","s":1,"t":"2012-07-13T12:00","q":11},{"y":"2010","s":1,"t":"2012-07-14T00:00","q":15.5},{"y":"2010","s":1,"t":"2012-07-15T00:00","q":11},{"y":"2010","s":1,"t":"2012-07-16T00:00","q":16.5},{"y":"2010","s":1,"t":"2012-07-17T00:00","q":11.5},{"y":"2010","s":1,"t":"2012-07-18T00:00","q":16.5},{"y":"2010","s":1,"t":"2012-07-19T00:00","q":12},{"y":"2010","s":1,"t":"2012-07-20T00:00","q":13.7},{"y":"2010","s":1,"t":"2012-07-21T00:00","q":12},{"y":"2010","s":1,"t":"2012-07-22T00:00","q":13},{"y":"2010","s":1,"t":"2012-07-24T00:00","q":15},{"y":"2010","s":1,"t":"2012-07-25T00:00","q":22.7},{"y":"2010","s":1,"t":"2012-07-26T00:00","q":19},{"y":"2010","s":1,"t":"2012-07-27T00:00","q":16.5},{"y":"2010","s":1,"t":"2012-07-28T00:00","q":18},{"y":"2010","s":1,"t":"2012-07-29T00:00","q":23},{"y":"2010","s":1,"t":"2012-07-30T00:00","q":19.2},{"y":"2010","s":1,"t":"2012-07-31T00:00","q":18.5},{"y":"2010","s":1,"t":"2012-08-01T00:00","q":22.7},{"y":"2010","s":1,"t":"2012-08-02T00:00","q":18},{"y":"2010","s":1,"t":"2012-08-04T00:00","q":28.8},{"y":"2010","s":1,"t":"2012-08-05T00:00","q":23.3},{"y":"2010","s":1,"t":"2012-08-06T00:00","q":17.8},{"y":"2010","s":1,"t":"2012-08-07T00:00","q":17},{"y":"2010","s":1,"t":"2012-08-08T00:00","q":15.1},{"y":"2010","s":1,"t":"2012-08-09T00:00","q":16},{"y":"2010","s":1,"t":"2012-08-10T00:00","q":13.7},{"y":"2010","s":1,"t":"2012-08-11T00:00","q":12},{"y":"2010","s":1,"t":"2012-08-12T00:00","q":16},{"y":"2010","s":1,"t":"2012-08-13T00:00","q":22},{"y":"2010","s":1,"t":"2012-08-14T00:00","q":19.2},{"y":"2010","s":1,"t":"2012-08-15T00:00","q":22.7},{"y":"2010","s":1,"t":"2012-08-16T00:00","q":16.5},{"y":"2010","s":1,"t":"2012-08-17T00:00","q":14},{"y":"2010","s":1,"t":"2012-08-19T00:00","q":12.3},{"y":"2010","s":1,"t":"2012-08-21T00:00","q":11},{"y":"2010","s":1,"t":"2012-08-23T00:00","q":10.3},{"y":"2010","s":1,"t":"2012-08-25T00:00","q":9.6},{"y":"2010","s":1,"t":"2012-08-28T00:00","q":8.9},{"y":"2010","s":1,"t":"2012-08-31T00:00","q":8.2},{"y":"2010","s":1,"t":"2012-09-03T00:00","q":7.5},{"y":"2010","s":1,"t":"2012-09-06T00:00","q":6.8},{"y":"2010","s":1,"t":"2012-09-07T00:00","q":17.1},{"y":"2010","s":1,"t":"2012-09-07T12:00","q":9},{"y":"2010","s":1,"t":"2012-09-08T00:00","q":7},{"y":"2010","s":1,"t":"2012-09-10T00:00","q":6.1},{"y":"2010","s":1,"t":"2012-09-13T00:00","q":5.5},{"y":"2010","s":1,"t":"2012-09-17T00:00","q":4.8},{"y":"2010","s":1,"t":"2012-09-20T00:00","q":3.4},{"y":"2010","s":1,"t":"2012-09-24T00:00","q":2},{"y":"2010","s":1,"t":"2012-09-29T00:00","q":1.3},{"y":"2010","s":1,"t":"2012-10-01T00:00","q":1},{"y":"2010","s":1,"t":"2012-10-02T00:00","q":15.1},{"y":"2010","s":1,"t":"2012-10-02T12:00","q":13.7},{"y":"2010","s":1,"t":"2012-10-03T00:00","q":9.6},{"y":"2010","s":1,"t":"2012-10-04T00:00","q":5.4},{"y":"2010","s":1,"t":"2012-10-06T00:00","q":2.7},{"y":"2010","s":1,"t":"2012-10-10T00:00","q":1.6},{"y":"2010","s":1,"t":"2012-10-15T00:00","q":0.6},{"y":"2010","s":1,"t":"2012-10-29T00:00","q":0.3},

      {"y":"2011","s":1,"t":"2012-04-27T00:00","q":0.3},{"y":"2011","s":1,"t":"2012-04-29T00:00","q":0.6},{"y":"2011","s":1,"t":"2012-04-30T00:00","q":1},
      {"y":"2011","s":2,"t":"2012-05-10T00:00","q":0.9},{"y":"2011","s":2,"t":"2012-05-13T00:00","q":0.9},
      {"y":"2011","s":3,"t":"2012-05-22T00:00","q":2.7},{"y":"2011","s":3,"t":"2012-05-24T00:00","q":4},{"y":"2011","s":3,"t":"2012-05-26T00:00","q":6.8},{"y":"2011","s":3,"t":"2012-05-27T00:00","q":10.3},{"y":"2011","s":3,"t":"2012-05-28T00:00","q":13},{"y":"2011","s":3,"t":"2012-05-29T00:00","q":15.1},{"y":"2011","s":3,"t":"2012-05-30T00:00","q":13.7},{"y":"2011","s":3,"t":"2012-05-31T00:00","q":14.5},{"y":"2011","s":3,"t":"2012-06-01T00:00","q":13},{"y":"2011","s":3,"t":"2012-06-02T00:00","q":11},{"y":"2011","s":3,"t":"2012-06-03T00:00","q":10},{"y":"2011","s":3,"t":"2012-06-04T00:00","q":8.5},{"y":"2011","s":3,"t":"2012-06-05T00:00","q":9},{"y":"2011","s":3,"t":"2012-06-06T00:00","q":8.9},{"y":"2011","s":3,"t":"2012-06-07T00:00","q":7.5},{"y":"2011","s":3,"t":"2012-06-08T00:00","q":7},{"y":"2011","s":3,"t":"2012-06-09T00:00","q":8.5},{"y":"2011","s":3,"t":"2012-06-10T00:00","q":9.6},{"y":"2011","s":3,"t":"2012-06-11T00:00","q":8.7},{"y":"2011","s":3,"t":"2012-06-12T00:00","q":8.2},{"y":"2011","s":3,"t":"2012-06-13T00:00","q":7},{"y":"2011","s":3,"t":"2012-06-14T00:00","q":6.5},{"y":"2011","s":3,"t":"2012-06-15T00:00","q":7.5},{"y":"2011","s":3,"t":"2012-06-16T00:00","q":8.2},{"y":"2011","s":3,"t":"2012-06-17T00:00","q":9},{"y":"2011","s":3,"t":"2012-06-18T00:00","q":9.6},{"y":"2011","s":3,"t":"2012-06-19T00:00","q":10.3},{"y":"2011","s":3,"t":"2012-06-20T00:00","q":9.6},{"y":"2011","s":3,"t":"2012-06-21T00:00","q":11},{"y":"2011","s":3,"t":"2012-06-22T00:00","q":10.5},{"y":"2011","s":3,"t":"2012-06-23T00:00","q":12},{"y":"2011","s":3,"t":"2012-06-24T00:00","q":13.7},{"y":"2011","s":3,"t":"2012-06-25T00:00","q":13},{"y":"2011","s":3,"t":"2012-06-26T00:00","q":15.1},{"y":"2011","s":3,"t":"2012-06-27T00:00","q":14},{"y":"2011","s":3,"t":"2012-06-28T00:00","q":13.7},{"y":"2011","s":3,"t":"2012-06-29T00:00","q":15},{"y":"2011","s":3,"t":"2012-06-30T00:00","q":14.5},{"y":"2011","s":3,"t":"2012-07-01T00:00","q":15.1},{"y":"2011","s":3,"t":"2012-07-02T00:00","q":14},{"y":"2011","s":3,"t":"2012-07-03T00:00","q":14.8},{"y":"2011","s":3,"t":"2012-07-04T00:00","q":16.5},{"y":"2011","s":3,"t":"2012-07-05T00:00","q":15},{"y":"2011","s":3,"t":"2012-07-06T00:00","q":17.8},{"y":"2011","s":3,"t":"2012-07-07T00:00","q":16},{"y":"2011","s":3,"t":"2012-07-08T00:00","q":19.2},{"y":"2011","s":3,"t":"2012-07-09T00:00","q":16.5},{"y":"2011","s":3,"t":"2012-07-10T00:00","q":17},{"y":"2011","s":3,"t":"2012-07-11T00:00","q":18},{"y":"2011","s":3,"t":"2012-07-12T00:00","q":15.5},{"y":"2011","s":3,"t":"2012-07-13T00:00","q":17.8},{"y":"2011","s":3,"t":"2012-07-14T00:00","q":16.5},{"y":"2011","s":3,"t":"2012-07-15T00:00","q":15.1},{"y":"2011","s":3,"t":"2012-07-16T00:00","q":17},{"y":"2011","s":3,"t":"2012-07-17T00:00","q":16},{"y":"2011","s":3,"t":"2012-07-18T00:00","q":15.1},{"y":"2011","s":3,"t":"2012-07-19T00:00","q":16.5},{"y":"2011","s":3,"t":"2012-07-20T00:00","q":15.5},{"y":"2011","s":3,"t":"2012-07-22T00:00","q":16.5},{"y":"2011","s":3,"t":"2012-07-24T00:00","q":14},{"y":"2011","s":3,"t":"2012-07-26T00:00","q":16.5},{"y":"2011","s":3,"t":"2012-07-28T00:00","q":16.5},{"y":"2011","s":3,"t":"2012-07-30T00:00","q":13},{"y":"2011","s":3,"t":"2012-08-01T00:00","q":15},{"y":"2011","s":3,"t":"2012-08-03T00:00","q":17},{"y":"2011","s":3,"t":"2012-08-05T00:00","q":13},{"y":"2011","s":3,"t":"2012-08-07T00:00","q":11},{"y":"2011","s":3,"t":"2012-08-09T00:00","q":12},{"y":"2011","s":3,"t":"2012-08-10T00:00","q":11},{"y":"2011","s":3,"t":"2012-08-12T00:00","q":13.7},{"y":"2011","s":3,"t":"2012-08-14T00:00","q":12},{"y":"2011","s":3,"t":"2012-08-16T00:00","q":13},{"y":"2011","s":3,"t":"2012-08-18T00:00","q":11},{"y":"2011","s":3,"t":"2012-08-19T00:00","q":22},{"y":"2011","s":3,"t":"2012-08-20T00:00","q":14},{"y":"2011","s":3,"t":"2012-08-21T00:00","q":11},{"y":"2011","s":3,"t":"2012-08-23T00:00","q":9.5},{"y":"2011","s":3,"t":"2012-08-25T00:00","q":8.9},{"y":"2011","s":3,"t":"2012-08-28T00:00","q":8.5},{"y":"2011","s":3,"t":"2012-08-31T00:00","q":7.5},{"y":"2011","s":3,"t":"2012-09-03T00:00","q":6.8},{"y":"2011","s":3,"t":"2012-09-06T00:00","q":6.5},{"y":"2011","s":3,"t":"2012-09-08T00:00","q":28.9},{"y":"2011","s":3,"t":"2012-09-08T12:00","q":13},{"y":"2011","s":3,"t":"2012-09-09T00:00","q":7},{"y":"2011","s":3,"t":"2012-09-11T00:00","q":6.5},{"y":"2011","s":3,"t":"2012-09-13T00:00","q":25.4},{"y":"2011","s":3,"t":"2012-09-13T12:00","q":12},{"y":"2011","s":3,"t":"2012-09-14T00:00","q":6.2},{"y":"2011","s":3,"t":"2012-09-17T00:00","q":5.5},{"y":"2011","s":3,"t":"2012-09-19T00:00","q":5},{"y":"2011","s":3,"t":"2012-09-20T00:00","q":31},{"y":"2011","s":3,"t":"2012-09-20T12:00","q":20.6},{"y":"2011","s":3,"t":"2012-09-21T00:00","q":8.2},{"y":"2011","s":3,"t":"2012-09-22T00:00","q":4},{"y":"2011","s":3,"t":"2012-09-26T00:00","q":2},{"y":"2011","s":3,"t":"2012-09-30T00:00","q":1.3},{"y":"2011","s":3,"t":"2012-10-02T00:00","q":15.1},{"y":"2011","s":3,"t":"2012-10-02T12:00","q":12.5},{"y":"2011","s":3,"t":"2012-10-03T00:00","q":7.5},{"y":"2011","s":3,"t":"2012-10-05T00:00","q":5.5},{"y":"2011","s":3,"t":"2012-10-07T00:00","q":4.8},{"y":"2011","s":3,"t":"2012-10-11T00:00","q":3.4},{"y":"2011","s":3,"t":"2012-10-17T00:00","q":2},{"y":"2011","s":3,"t":"2012-10-29T00:00","q":0.8},

      {"y":"2012","s":1,"t":"2012-06-01T00:00","q":2.7},{"y":"2012","s":1,"t":"2012-06-02T00:00","q":3.5},{"y":"2012","s":1,"t":"2012-06-04T00:00","q":5.4},{"y":"2012","s":1,"t":"2012-06-06T00:00","q":6.8},{"y":"2012","s":1,"t":"2012-06-08T00:00","q":8.2},{"y":"2012","s":1,"t":"2012-06-10T00:00","q":8.9},{"y":"2012","s":1,"t":"2012-06-12T00:00","q":8.2},{"y":"2012","s":1,"t":"2012-06-14T00:00","q":8.5},{"y":"2012","s":1,"t":"2012-06-16T00:00","q":8.9},{"y":"2012","s":1,"t":"2012-06-18T00:00","q":8.2},{"y":"2012","s":1,"t":"2012-06-19T00:00","q":9},{"y":"2012","s":1,"t":"2012-06-19T12:00","q":11.6},{"y":"2012","s":1,"t":"2012-06-20T00:00","q":16.5},{"y":"2012","s":1,"t":"2012-06-21T00:00","q":18.5},{"y":"2012","s":1,"t":"2012-06-22T00:00","q":18.5},{"y":"2012","s":1,"t":"2012-06-23T00:00","q":21.3},{"y":"2012","s":1,"t":"2012-06-24T00:00","q":26.1},{"y":"2012","s":1,"t":"2012-06-25T00:00","q":27.5},{"y":"2012","s":1,"t":"2012-06-26T00:00","q":25},{"y":"2012","s":1,"t":"2012-06-27T00:00","q":23.3},{"y":"2012","s":1,"t":"2012-06-28T00:00","q":21},{"y":"2012","s":1,"t":"2012-06-29T00:00","q":17.8},{"y":"2012","s":1,"t":"2012-07-01T00:00","q":18.5},{"y":"2012","s":1,"t":"2012-07-02T00:00","q":19.2},{"y":"2012","s":1,"t":"2012-07-03T00:00","q":17.5},{"y":"2012","s":1,"t":"2012-07-05T00:00","q":16.5},{"y":"2012","s":1,"t":"2012-07-06T00:00","q":14.5},{"y":"2012","s":1,"t":"2012-07-08T00:00","q":11.6},{"y":"2012","s":1,"t":"2012-07-10T00:00","q":10.5},{"y":"2012","s":1,"t":"2012-07-12T00:00","q":9.8},{"y":"2012","s":1,"t":"2012-07-14T00:00","q":9.5},{"y":"2012","s":1,"t":"2012-07-16T00:00","q":10},{"y":"2012","s":1,"t":"2012-07-17T00:00","q":9.5},{"y":"2012","s":1,"t":"2012-07-18T00:00","q":13.7},{"y":"2012","s":1,"t":"2012-07-19T00:00","q":17.8},{"y":"2012","s":1,"t":"2012-07-20T00:00","q":20.6},{"y":"2012","s":1,"t":"2012-07-21T00:00","q":31},{"y":"2012","s":1,"t":"2012-07-21T12:00","q":28.9},{"y":"2012","s":1,"t":"2012-07-22T00:00","q":31.6},
      {"y":"2012","s":2,"t":"2012-08-18T00:00","q":10},{"y":"2012","s":2,"t":"2012-08-20T00:00","q":8.5},{"y":"2012","s":2,"t":"2012-08-22T00:00","q":9.5},{"y":"2012","s":2,"t":"2012-08-24T00:00","q":8},{"y":"2012","s":2,"t":"2012-08-26T00:00","q":7.5},{"y":"2012","s":2,"t":"2012-08-28T00:00","q":6.5},{"y":"2012","s":2,"t":"2012-08-30T00:00","q":7.5},{"y":"2012","s":2,"t":"2012-09-01T00:00","q":4.8},{"y":"2012","s":2,"t":"2012-09-03T00:00","q":6},{"y":"2012","s":2,"t":"2012-09-06T00:00","q":5.5},{"y":"2012","s":2,"t":"2012-09-09T00:00","q":5.5},{"y":"2012","s":2,"t":"2012-09-12T00:00","q":5},{"y":"2012","s":2,"t":"2012-09-14T00:00","q":4.5},{"y":"2012","s":2,"t":"2012-09-16T00:00","q":5},{"y":"2012","s":2,"t":"2012-09-16T12:00","q":46.8},{"y":"2012","s":2,"t":"2012-09-17T00:00","q":5},{"y":"2012","s":2,"t":"2012-09-19T00:00","q":6},{"y":"2012","s":2,"t":"2012-09-20T00:00","q":15},{"y":"2012","s":2,"t":"2012-09-20T12:00","q":55.7},{"y":"2012","s":2,"t":"2012-09-21T00:00","q":15},{"y":"2012","s":2,"t":"2012-09-22T00:00","q":14},{"y":"2012","s":2,"t":"2012-09-22T06:00","q":98.4},{"y":"2012","s":2,"t":"2012-09-22T12:00","q":104},{"y":"2012","s":2,"t":"2012-09-22T18:00","q":75.7},{"y":"2012","s":2,"t":"2012-09-23T00:00","q":103},{"y":"2012","s":2,"t":"2012-09-23T12:00","q":45.4},{"y":"2012","s":2,"t":"2012-09-24T00:00","q":44},{"y":"2012","s":2,"t":"2012-09-25T00:00","q":37},{"y":"2012","s":2,"t":"2012-09-26T00:00","q":33},{"y":"2012","s":2,"t":"2012-09-28T00:00","q":27.5},{"y":"2012","s":2,"t":"2012-09-30T00:00","q":24},{"y":"2012","s":2,"t":"2012-10-01T00:00","q":22},{"y":"2012","s":2,"t":"2012-10-02T00:00","q":19},{"y":"2012","s":2,"t":"2012-10-03T00:00","q":16.5},{"y":"2012","s":2,"t":"2012-10-04T00:00","q":22},{"y":"2012","s":2,"t":"2012-10-05T00:00","q":24.7},{"y":"2012","s":2,"t":"2012-10-06T00:00","q":40.6},{"y":"2012","s":2,"t":"2012-10-06T12:00","q":40},{"y":"2012","s":2,"t":"2012-10-07T00:00","q":24.7},{"y":"2012","s":2,"t":"2012-10-08T00:00","q":22},{"y":"2012","s":2,"t":"2012-10-10T00:00","q":20},{"y":"2012","s":2,"t":"2012-10-12T00:00","q":18.5},{"y":"2012","s":2,"t":"2012-10-15T00:00","q":15.8},{"y":"2012","s":2,"t":"2012-10-18T00:00","q":13.7},{"y":"2012","s":2,"t":"2012-10-21T00:00","q":11.6},{"y":"2012","s":2,"t":"2012-10-25T00:00","q":10},{"y":"2012","s":2,"t":"2012-10-29T00:00","q":9}
    ]
  },
  "vconcat": [
    {
      "width": 521, "height": 288,
      "title": "West Fork Eklutna River",
      "data": {"name": "west"},
      "layer": [
        {
          "mark": {"type": "line", "strokeWidth": 1, "clip": true},
          "encoding": {
            "x": {"field": "t", "type": "temporal", "title": "Month of year",
                  "scale": {"domain": [{"year": 2012, "month": 4, "date": 25, "hours": 14}, {"year": 2012, "month": 10, "date": 29, "hours": 16}]},
                  "axis": {"orient": "bottom", "format": "%b", "tickCount": {"interval": "month", "step": 1}, "labelPadding": 8, "titleFontSize": 14, "titleFontWeight": "bold", "titlePadding": 5}},
            "y": {"field": "q", "type": "quantitative", "title": "Discharge (m3/sec)",
                  "scale": {"domain": [0, 120]},
                  "axis": {"orient": "left", "values": [0, 20, 40, 60, 80, 100, 120], "labelPadding": 9, "titleFontSize": 14, "titleFontWeight": "normal", "titlePadding": 7}},
            "color": {"field": "y", "type": "nominal",
                      "scale": {"domain": ["2008", "2009", "2010", "2011", "2012"], "range": ["red", "#00ee00", "#0000ff", "#00eeee", "#ff00ff"]}},
            "detail": {"field": "s"}
          }
        },
        {
          "mark": {"type": "line", "opacity": 0},
          "encoding": {
            "x": {"field": "t", "type": "temporal", "title": null,
                  "axis": {"orient": "top", "labels": false, "domain": false, "tickCount": {"interval": "month", "step": 1}}},
            "y": {"field": "q", "type": "quantitative", "title": null,
                  "axis": {"orient": "right", "labels": false, "domain": false, "values": [0, 20, 40, 60, 80, 100, 120]}}
          }
        }
      ],
      "resolve": {"axis": {"x": "independent", "y": "independent"}}
    },
    {
      "width": 521, "height": 288,
      "title": "East Fork Eklutna River",
      "data": {"name": "east"},
      "layer": [
        {
          "mark": {"type": "line", "strokeWidth": 1, "clip": true},
          "encoding": {
            "x": {"field": "t", "type": "temporal", "title": "Month of year",
                  "scale": {"domain": [{"year": 2012, "month": 4, "date": 25, "hours": 14}, {"year": 2012, "month": 10, "date": 29, "hours": 16}]},
                  "axis": {"orient": "bottom", "format": "%b", "tickCount": {"interval": "month", "step": 1}, "labelPadding": 8, "titleFontSize": 14, "titleFontWeight": "bold", "titlePadding": 5}},
            "y": {"field": "q", "type": "quantitative", "title": "Discharge (m3/sec)",
                  "scale": {"domain": [0, 120]},
                  "axis": {"orient": "left", "values": [0, 20, 40, 60, 80, 100, 120], "labelPadding": 9, "titleFontSize": 14, "titleFontWeight": "normal", "titlePadding": 7}},
            "color": {"field": "y", "type": "nominal",
                      "scale": {"domain": ["2009", "2010", "2011", "2012"], "range": ["#00ee00", "#0000ff", "#00eeee", "#ff00ff"]}},
            "detail": {"field": "s"}
          }
        },
        {
          "mark": {"type": "line", "opacity": 0},
          "encoding": {
            "x": {"field": "t", "type": "temporal", "title": null,
                  "axis": {"orient": "top", "labels": false, "domain": false, "tickCount": {"interval": "month", "step": 1}}},
            "y": {"field": "q", "type": "quantitative", "title": null,
                  "axis": {"orient": "right", "labels": false, "domain": false, "values": [0, 20, 40, 60, 80, 100, 120]}}
          }
        }
      ],
      "resolve": {"axis": {"x": "independent", "y": "independent"}}
    }
  ]
}
